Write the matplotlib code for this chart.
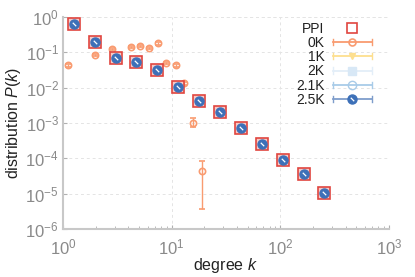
import matplotlib
matplotlib.use("Agg")
import matplotlib.pyplot as plt
import numpy as np
from matplotlib.lines import Line2D
from matplotlib.legend_handler import HandlerBase

plt.rcParams['font.family'] = ['Liberation Sans', 'DejaVu Sans']
plt.rcParams['mathtext.fontset'] = 'custom'
plt.rcParams['mathtext.rm'] = 'Liberation Sans'
plt.rcParams['mathtext.it'] = 'Liberation Sans:italic'

# PPI empirical degree distribution
k_ppi = [1.26, 1.97, 3.04, 4.65, 7.3, 11.4, 17.9, 27.7, 43.4, 67.3, 105, 164, 255]
p_ppi = [0.63, 0.20, 0.070, 0.052, 0.031, 0.0106, 0.0042, 0.0020, 7.0e-4, 2.6e-4, 9.1e-5, 3.6e-5, 1.05e-5]

# 0K model
k_0k = [1.1, 1.96, 2.85, 4.18, 5.07, 6.13, 7.43, 8.93, 10.9, 13.0, 15.8, 19.2]
p_0k = [0.043, 0.084, 0.124, 0.14, 0.15, 0.132, 0.18, 0.050, 0.043, 0.0132, 1.02e-3, 4.4e-5]
lo_0k = [0.039, 0.077, 0.113, 0.128, 0.137, 0.121, 0.165, 0.046, 0.039, 0.0120, 7.8e-4, 3.7e-6]
hi_0k = [0.047, 0.091, 0.135, 0.152, 0.163, 0.143, 0.195, 0.054, 0.047, 0.0144, 1.35e-3, 8.5e-5]

# 1K, 2K, 2.1K, 2.5K models (coincide with PPI)
p_1k = p_ppi
p_2k = p_ppi
p_21k = p_ppi
p_25k = p_ppi

fig = plt.figure(figsize=(4.15, 2.77), dpi=100)
ax = fig.add_axes([0.152, 0.173, 0.785, 0.766])

c_ppi = '#e0453f'
c_0k = '#f99b70'
c_1k = '#fddf8f'
c_2k = '#e3eef8'
c_21k = '#a8cbe8'
c_25k = '#3d70b8'
c_25k_line = '#7e9dcb'

p0 = np.array(p_0k)
yerr = [p0 - np.array(lo_0k), np.array(hi_0k) - p0]
ax.errorbar(k_0k, p_0k, yerr=yerr, fmt='o', ms=4.5, mfc='none', mec=c_0k,
            mew=1.2, ecolor=c_0k, elinewidth=1.0, capsize=2, color=c_0k, zorder=3)
ax.plot(k_ppi, p_1k, 'v', ms=5, color=c_1k, linestyle='none', zorder=3)
ax.plot(k_ppi, p_2k, 's', ms=5, color=c_2k, linestyle='none', zorder=3)
ax.plot(k_ppi, p_21k, 'o', ms=6, mfc='none', mec=c_21k, linestyle='none', zorder=3)
ax.plot(k_ppi, p_ppi, 's', ms=8.5, mfc='#f6c9c6', mec=c_ppi, mew=1.2,
        linestyle='none', zorder=4)
ax.plot(k_ppi, p_25k, 'o', ms=6.5, color=c_25k, mec=c_25k, linestyle='none', zorder=5)
ax.plot(k_ppi, p_25k, linestyle='none', marker=(2, 0, 45), ms=3.5, mec='white',
        mew=0.9, zorder=6)

ax.set_xscale('log')
ax.set_yscale('log')
ax.set_xlim(1, 1000)
ax.set_ylim(1e-6, 1)

for s in ['top', 'right']:
    ax.spines[s].set_visible(False)
for s in ['left', 'bottom']:
    ax.spines[s].set_color('#c8c8c8')
    ax.spines[s].set_linewidth(1.5)

ax.grid(True, which='major', linestyle=(0, (3, 3)), color='#e4e4e4', linewidth=0.7)
ax.axhline(1, linestyle=(0, (3, 3)), color='#e4e4e4', linewidth=0.7, zorder=0)
ax.axvline(1000, linestyle=(0, (3, 3)), color='#e4e4e4', linewidth=0.7, zorder=0)
ax.tick_params(which='both', direction='in', colors='#b0b0b0', labelcolor='#8a8a8a',
               labelsize=12)
ax.tick_params(which='major', length=3)
ax.tick_params(which='minor', length=2)
ax.tick_params(axis='y', which='minor', length=0)
ax.tick_params(axis='x', pad=6)
ax.tick_params(axis='y', pad=3)

ax.set_xlabel('degree $k$', fontsize=11.5, color='#222222', labelpad=-1)
ax.set_ylabel('distribution $P(k)$', fontsize=11.5, color='#222222', labelpad=2)


class CapLine:
    def __init__(self, color, marker, ms, mfc, mec, mew=1.0, line=True, dot=False):
        self.color = color; self.marker = marker; self.ms = ms
        self.mfc = mfc; self.mec = mec; self.mew = mew
        self.line = line; self.dot = dot


class CapLineHandler(HandlerBase):
    def create_artists(self, legend, h, xd, yd, width, height, fontsize, trans):
        y = yd + height / 2
        arts = []
        if h.line:
            arts.append(Line2D([xd, xd + width], [y, y], color=h.color, lw=1.3, transform=trans))
            for xx in (xd, xd + width):
                arts.append(Line2D([xx, xx], [y - 2.2, y + 2.2], color=h.color, lw=1.0,
                                   transform=trans))
        arts.append(Line2D([xd + width / 2], [y], marker=h.marker, ms=h.ms, mfc=h.mfc,
                           mec=h.mec, mew=h.mew, linestyle='none', transform=trans))
        if h.dot:
            arts.append(Line2D([xd + width / 2], [y], marker=(2, 0, 45), ms=3.5, mec='white',
                               mew=0.9, linestyle='none', transform=trans))
        return arts


handles = [
    CapLine(c_ppi, 's', 7, 'white', c_ppi, 1.2, line=False),
    CapLine(c_0k, 'o', 5, 'none', c_0k, 1.2),
    CapLine(c_1k, 'v', 5, c_1k, c_1k),
    CapLine(c_2k, 's', 6, '#d8e8f6', '#d8e8f6'),
    CapLine(c_21k, 'o', 6, 'none', c_21k, 1.0),
    CapLine(c_25k_line, 'o', 6.5, c_25k, c_25k, 1.0, dot=True),
]
leg = ax.legend(handles, ['PPI', '0K', '1K', '2K', '2.1K', '2.5K'],
                handler_map={CapLine: CapLineHandler()},
                loc='upper right', bbox_to_anchor=(0.948, 0.978), markerfirst=False,
                frameon=False, fontsize=10, handlelength=2.8, labelspacing=0.02,
                handletextpad=0.6, borderaxespad=0.0, borderpad=0.0)
for t in leg.get_texts():
    t.set_color('#222222')

fig.savefig('out.png', dpi=100)
